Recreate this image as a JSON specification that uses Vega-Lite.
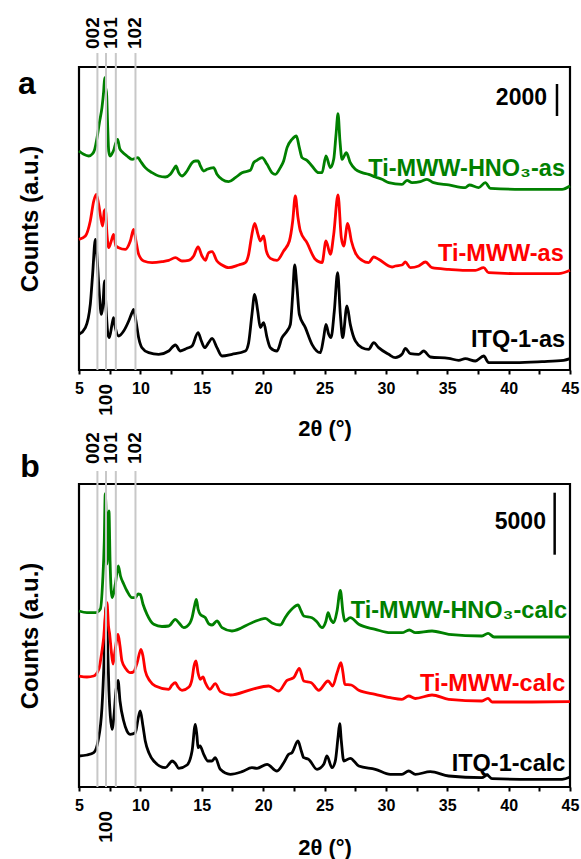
{
  "$schema": "https://vega.github.io/schema/vega-lite/v6.json",
  "padding": {"left": 16, "top": 16, "right": 0, "bottom": 0},
  "background": "white",
  "config": {
    "view": {"stroke": "black", "strokeWidth": 2.2},
    "font": "Liberation Sans",
    "text": {"font": "Liberation Sans", "fontWeight": "bold"},
    "line": {"strokeWidth": 2.8, "strokeJoin": "round", "interpolate": "monotone"}
  },
  "datasets": {
    "hkl": [{"hkl": "002", "t": 6.5}, {"hkl": "100", "t": 7.2}, {"hkl": "101", "t": 8.0}, {"hkl": "102", "t": 9.6}],
    "a": [
      {"s":"ITQ-1-as","t":5.00,"c":2229},{"s":"ITQ-1-as","t":5.52,"c":2646},{"s":"ITQ-1-as","t":5.92,"c":4104},{"s":"ITQ-1-as","t":6.11,"c":5979},{"s":"ITQ-1-as","t":6.33,"c":8167},{"s":"ITQ-1-as","t":6.49,"c":6813},{"s":"ITQ-1-as","t":6.66,"c":4729},{"s":"ITQ-1-as","t":6.82,"c":3479},{"s":"ITQ-1-as","t":6.93,"c":3896},{"s":"ITQ-1-as","t":7.09,"c":5563},{"s":"ITQ-1-as","t":7.20,"c":3896},{"s":"ITQ-1-as","t":7.36,"c":2229},{"s":"ITQ-1-as","t":7.47,"c":2021},{"s":"ITQ-1-as","t":7.69,"c":2854},{"s":"ITQ-1-as","t":7.82,"c":3271},{"s":"ITQ-1-as","t":7.96,"c":2646},{"s":"ITQ-1-as","t":8.23,"c":2125},{"s":"ITQ-1-as","t":8.64,"c":2438},{"s":"ITQ-1-as","t":9.05,"c":3063},{"s":"ITQ-1-as","t":9.32,"c":3583},{"s":"ITQ-1-as","t":9.45,"c":3792},{"s":"ITQ-1-as","t":9.64,"c":3063},{"s":"ITQ-1-as","t":9.86,"c":2021},{"s":"ITQ-1-as","t":10.13,"c":1396},{"s":"ITQ-1-as","t":10.68,"c":1083},{"s":"ITQ-1-as","t":11.49,"c":979},{"s":"ITQ-1-as","t":12.31,"c":1188},{"s":"ITQ-1-as","t":12.85,"c":1563},{"s":"ITQ-1-as","t":13.26,"c":1188},{"s":"ITQ-1-as","t":13.80,"c":1354},{"s":"ITQ-1-as","t":14.21,"c":1500},{"s":"ITQ-1-as","t":14.70,"c":2333},{"s":"ITQ-1-as","t":14.97,"c":1813},{"s":"ITQ-1-as","t":15.24,"c":1396},{"s":"ITQ-1-as","t":15.56,"c":1708},{"s":"ITQ-1-as","t":15.84,"c":1979},{"s":"ITQ-1-as","t":16.24,"c":1396},{"s":"ITQ-1-as","t":16.65,"c":875},{"s":"ITQ-1-as","t":17.46,"c":979},{"s":"ITQ-1-as","t":18.55,"c":1188},{"s":"ITQ-1-as","t":18.82,"c":1708},{"s":"ITQ-1-as","t":19.09,"c":3479},{"s":"ITQ-1-as","t":19.31,"c":4729},{"s":"ITQ-1-as","t":19.56,"c":3688},{"s":"ITQ-1-as","t":19.77,"c":2646},{"s":"ITQ-1-as","t":20.04,"c":2958},{"s":"ITQ-1-as","t":20.32,"c":2021},{"s":"ITQ-1-as","t":20.59,"c":1396},{"s":"ITQ-1-as","t":21.13,"c":1188},{"s":"ITQ-1-as","t":21.54,"c":2021},{"s":"ITQ-1-as","t":21.95,"c":2438},{"s":"ITQ-1-as","t":22.22,"c":2854},{"s":"ITQ-1-as","t":22.41,"c":4729},{"s":"ITQ-1-as","t":22.57,"c":6563},{"s":"ITQ-1-as","t":22.76,"c":5146},{"s":"ITQ-1-as","t":22.95,"c":3479},{"s":"ITQ-1-as","t":23.44,"c":2646},{"s":"ITQ-1-as","t":23.98,"c":1604},{"s":"ITQ-1-as","t":24.66,"c":1083},{"s":"ITQ-1-as","t":24.93,"c":2021},{"s":"ITQ-1-as","t":25.12,"c":2854},{"s":"ITQ-1-as","t":25.34,"c":2229},{"s":"ITQ-1-as","t":25.53,"c":2021},{"s":"ITQ-1-as","t":25.80,"c":3688},{"s":"ITQ-1-as","t":26.07,"c":6083},{"s":"ITQ-1-as","t":26.29,"c":3479},{"s":"ITQ-1-as","t":26.48,"c":2021},{"s":"ITQ-1-as","t":26.83,"c":4000},{"s":"ITQ-1-as","t":27.10,"c":2854},{"s":"ITQ-1-as","t":27.51,"c":1813},{"s":"ITQ-1-as","t":28.06,"c":1396},{"s":"ITQ-1-as","t":28.60,"c":1292},{"s":"ITQ-1-as","t":29.01,"c":1708},{"s":"ITQ-1-as","t":29.41,"c":1396},{"s":"ITQ-1-as","t":30.23,"c":979},{"s":"ITQ-1-as","t":30.77,"c":771},{"s":"ITQ-1-as","t":31.31,"c":979},{"s":"ITQ-1-as","t":31.59,"c":1354},{"s":"ITQ-1-as","t":31.99,"c":1021},{"s":"ITQ-1-as","t":32.67,"c":979},{"s":"ITQ-1-as","t":33.08,"c":1188},{"s":"ITQ-1-as","t":33.62,"c":813},{"s":"ITQ-1-as","t":35.12,"c":729},{"s":"ITQ-1-as","t":35.93,"c":604},{"s":"ITQ-1-as","t":36.47,"c":708},{"s":"ITQ-1-as","t":37.29,"c":563},{"s":"ITQ-1-as","t":37.97,"c":875},{"s":"ITQ-1-as","t":38.37,"c":458},{"s":"ITQ-1-as","t":40.55,"c":458},{"s":"ITQ-1-as","t":42.72,"c":521},{"s":"ITQ-1-as","t":44.48,"c":604},{"s":"ITQ-1-as","t":45.00,"c":708},
      {"s":"Ti-MWW-as","t":5.00,"c":8167},{"s":"Ti-MWW-as","t":5.52,"c":8375},{"s":"Ti-MWW-as","t":5.92,"c":9313},{"s":"Ti-MWW-as","t":6.20,"c":10563},{"s":"Ti-MWW-as","t":6.41,"c":10979},{"s":"Ti-MWW-as","t":6.60,"c":10354},{"s":"Ti-MWW-as","t":6.82,"c":9313},{"s":"Ti-MWW-as","t":6.93,"c":9000},{"s":"Ti-MWW-as","t":7.06,"c":9938},{"s":"Ti-MWW-as","t":7.15,"c":10042},{"s":"Ti-MWW-as","t":7.28,"c":8479},{"s":"Ti-MWW-as","t":7.42,"c":7646},{"s":"Ti-MWW-as","t":7.63,"c":8063},{"s":"Ti-MWW-as","t":7.82,"c":8479},{"s":"Ti-MWW-as","t":8.01,"c":7750},{"s":"Ti-MWW-as","t":8.23,"c":7646},{"s":"Ti-MWW-as","t":8.78,"c":7542},{"s":"Ti-MWW-as","t":9.18,"c":8063},{"s":"Ti-MWW-as","t":9.45,"c":8792},{"s":"Ti-MWW-as","t":9.64,"c":8063},{"s":"Ti-MWW-as","t":9.86,"c":7229},{"s":"Ti-MWW-as","t":10.27,"c":6813},{"s":"Ti-MWW-as","t":10.95,"c":6708},{"s":"Ti-MWW-as","t":11.76,"c":6771},{"s":"Ti-MWW-as","t":12.31,"c":6854},{"s":"Ti-MWW-as","t":12.85,"c":7021},{"s":"Ti-MWW-as","t":13.39,"c":6813},{"s":"Ti-MWW-as","t":13.93,"c":6854},{"s":"Ti-MWW-as","t":14.34,"c":7125},{"s":"Ti-MWW-as","t":14.70,"c":7688},{"s":"Ti-MWW-as","t":15.02,"c":7125},{"s":"Ti-MWW-as","t":15.29,"c":6854},{"s":"Ti-MWW-as","t":15.56,"c":7333},{"s":"Ti-MWW-as","t":15.84,"c":7396},{"s":"Ti-MWW-as","t":16.24,"c":6813},{"s":"Ti-MWW-as","t":16.65,"c":6563},{"s":"Ti-MWW-as","t":17.19,"c":6396},{"s":"Ti-MWW-as","t":18.01,"c":6563},{"s":"Ti-MWW-as","t":18.55,"c":6708},{"s":"Ti-MWW-as","t":18.82,"c":7229},{"s":"Ti-MWW-as","t":19.04,"c":8271},{"s":"Ti-MWW-as","t":19.31,"c":9167},{"s":"Ti-MWW-as","t":19.58,"c":8479},{"s":"Ti-MWW-as","t":19.77,"c":8063},{"s":"Ti-MWW-as","t":20.04,"c":8375},{"s":"Ti-MWW-as","t":20.26,"c":7438},{"s":"Ti-MWW-as","t":20.59,"c":6979},{"s":"Ti-MWW-as","t":21.13,"c":6854},{"s":"Ti-MWW-as","t":21.67,"c":7438},{"s":"Ti-MWW-as","t":22.14,"c":8063},{"s":"Ti-MWW-as","t":22.41,"c":9313},{"s":"Ti-MWW-as","t":22.62,"c":10875},{"s":"Ti-MWW-as","t":22.84,"c":9521},{"s":"Ti-MWW-as","t":23.03,"c":8688},{"s":"Ti-MWW-as","t":23.57,"c":7958},{"s":"Ti-MWW-as","t":24.25,"c":6917},{"s":"Ti-MWW-as","t":24.80,"c":6708},{"s":"Ti-MWW-as","t":25.12,"c":8063},{"s":"Ti-MWW-as","t":25.48,"c":7229},{"s":"Ti-MWW-as","t":25.75,"c":8479},{"s":"Ti-MWW-as","t":26.10,"c":10938},{"s":"Ti-MWW-as","t":26.37,"c":8271},{"s":"Ti-MWW-as","t":26.56,"c":7750},{"s":"Ti-MWW-as","t":26.89,"c":9167},{"s":"Ti-MWW-as","t":27.19,"c":8063},{"s":"Ti-MWW-as","t":27.51,"c":7333},{"s":"Ti-MWW-as","t":28.06,"c":6854},{"s":"Ti-MWW-as","t":28.60,"c":6708},{"s":"Ti-MWW-as","t":29.01,"c":7063},{"s":"Ti-MWW-as","t":29.41,"c":6917},{"s":"Ti-MWW-as","t":30.50,"c":6438},{"s":"Ti-MWW-as","t":30.77,"c":6500},{"s":"Ti-MWW-as","t":31.31,"c":6563},{"s":"Ti-MWW-as","t":31.59,"c":6750},{"s":"Ti-MWW-as","t":31.99,"c":6396},{"s":"Ti-MWW-as","t":32.67,"c":6500},{"s":"Ti-MWW-as","t":33.22,"c":6750},{"s":"Ti-MWW-as","t":33.76,"c":6396},{"s":"Ti-MWW-as","t":35.12,"c":6292},{"s":"Ti-MWW-as","t":36.47,"c":6229},{"s":"Ti-MWW-as","t":37.29,"c":6229},{"s":"Ti-MWW-as","t":37.97,"c":6396},{"s":"Ti-MWW-as","t":38.37,"c":6083},{"s":"Ti-MWW-as","t":41.09,"c":6021},{"s":"Ti-MWW-as","t":44.08,"c":6021},{"s":"Ti-MWW-as","t":45.00,"c":6229},
      {"s":"Ti-MWW-HNO3-as","t":5.00,"c":13688},{"s":"Ti-MWW-HNO3-as","t":5.38,"c":13479},{"s":"Ti-MWW-HNO3-as","t":5.79,"c":13375},{"s":"Ti-MWW-HNO3-as","t":6.11,"c":13521},{"s":"Ti-MWW-HNO3-as","t":6.28,"c":13792},{"s":"Ti-MWW-HNO3-as","t":6.47,"c":14521},{"s":"Ti-MWW-HNO3-as","t":6.66,"c":15458},{"s":"Ti-MWW-HNO3-as","t":6.87,"c":16396},{"s":"Ti-MWW-HNO3-as","t":7.01,"c":17438},{"s":"Ti-MWW-HNO3-as","t":7.09,"c":18271},{"s":"Ti-MWW-HNO3-as","t":7.17,"c":17646},{"s":"Ti-MWW-HNO3-as","t":7.25,"c":17229},{"s":"Ti-MWW-HNO3-as","t":7.34,"c":15146},{"s":"Ti-MWW-HNO3-as","t":7.42,"c":13688},{"s":"Ti-MWW-HNO3-as","t":7.53,"c":13375},{"s":"Ti-MWW-HNO3-as","t":7.69,"c":13521},{"s":"Ti-MWW-HNO3-as","t":7.85,"c":13792},{"s":"Ti-MWW-HNO3-as","t":7.96,"c":14104},{"s":"Ti-MWW-HNO3-as","t":8.15,"c":14417},{"s":"Ti-MWW-HNO3-as","t":8.31,"c":13854},{"s":"Ti-MWW-HNO3-as","t":8.50,"c":13646},{"s":"Ti-MWW-HNO3-as","t":8.91,"c":13375},{"s":"Ti-MWW-HNO3-as","t":9.32,"c":13167},{"s":"Ti-MWW-HNO3-as","t":9.81,"c":13271},{"s":"Ti-MWW-HNO3-as","t":10.00,"c":13063},{"s":"Ti-MWW-HNO3-as","t":10.40,"c":12646},{"s":"Ti-MWW-HNO3-as","t":10.95,"c":12333},{"s":"Ti-MWW-HNO3-as","t":11.49,"c":12125},{"s":"Ti-MWW-HNO3-as","t":12.03,"c":12063},{"s":"Ti-MWW-HNO3-as","t":12.44,"c":12229},{"s":"Ti-MWW-HNO3-as","t":12.71,"c":12542},{"s":"Ti-MWW-HNO3-as","t":12.90,"c":12750},{"s":"Ti-MWW-HNO3-as","t":13.12,"c":12333},{"s":"Ti-MWW-HNO3-as","t":13.39,"c":12125},{"s":"Ti-MWW-HNO3-as","t":13.80,"c":12438},{"s":"Ti-MWW-HNO3-as","t":14.21,"c":12958},{"s":"Ti-MWW-HNO3-as","t":14.48,"c":13063},{"s":"Ti-MWW-HNO3-as","t":14.70,"c":13063},{"s":"Ti-MWW-HNO3-as","t":14.89,"c":12750},{"s":"Ti-MWW-HNO3-as","t":15.16,"c":12438},{"s":"Ti-MWW-HNO3-as","t":15.43,"c":12542},{"s":"Ti-MWW-HNO3-as","t":15.97,"c":12646},{"s":"Ti-MWW-HNO3-as","t":16.24,"c":12229},{"s":"Ti-MWW-HNO3-as","t":16.65,"c":11917},{"s":"Ti-MWW-HNO3-as","t":17.19,"c":11771},{"s":"Ti-MWW-HNO3-as","t":17.74,"c":12021},{"s":"Ti-MWW-HNO3-as","t":18.28,"c":12333},{"s":"Ti-MWW-HNO3-as","t":18.96,"c":12479},{"s":"Ti-MWW-HNO3-as","t":19.23,"c":12958},{"s":"Ti-MWW-HNO3-as","t":19.50,"c":13104},{"s":"Ti-MWW-HNO3-as","t":19.91,"c":13271},{"s":"Ti-MWW-HNO3-as","t":20.32,"c":12854},{"s":"Ti-MWW-HNO3-as","t":20.72,"c":12333},{"s":"Ti-MWW-HNO3-as","t":21.00,"c":12229},{"s":"Ti-MWW-HNO3-as","t":21.40,"c":12646},{"s":"Ti-MWW-HNO3-as","t":21.67,"c":13063},{"s":"Ti-MWW-HNO3-as","t":21.95,"c":13896},{"s":"Ti-MWW-HNO3-as","t":22.35,"c":14417},{"s":"Ti-MWW-HNO3-as","t":22.71,"c":14625},{"s":"Ti-MWW-HNO3-as","t":22.95,"c":13896},{"s":"Ti-MWW-HNO3-as","t":23.17,"c":13271},{"s":"Ti-MWW-HNO3-as","t":23.57,"c":13104},{"s":"Ti-MWW-HNO3-as","t":23.98,"c":12750},{"s":"Ti-MWW-HNO3-as","t":24.53,"c":12333},{"s":"Ti-MWW-HNO3-as","t":24.80,"c":12333},{"s":"Ti-MWW-HNO3-as","t":25.12,"c":13375},{"s":"Ti-MWW-HNO3-as","t":25.48,"c":12646},{"s":"Ti-MWW-HNO3-as","t":25.75,"c":13167},{"s":"Ti-MWW-HNO3-as","t":25.94,"c":14729},{"s":"Ti-MWW-HNO3-as","t":26.10,"c":16021},{"s":"Ti-MWW-HNO3-as","t":26.26,"c":14313},{"s":"Ti-MWW-HNO3-as","t":26.43,"c":13167},{"s":"Ti-MWW-HNO3-as","t":26.78,"c":13583},{"s":"Ti-MWW-HNO3-as","t":27.10,"c":12958},{"s":"Ti-MWW-HNO3-as","t":27.51,"c":12542},{"s":"Ti-MWW-HNO3-as","t":28.06,"c":12333},{"s":"Ti-MWW-HNO3-as","t":28.60,"c":12229},{"s":"Ti-MWW-HNO3-as","t":29.14,"c":12063},{"s":"Ti-MWW-HNO3-as","t":29.68,"c":11917},{"s":"Ti-MWW-HNO3-as","t":30.23,"c":11708},{"s":"Ti-MWW-HNO3-as","t":31.31,"c":11604},{"s":"Ti-MWW-HNO3-as","t":31.72,"c":11854},{"s":"Ti-MWW-HNO3-as","t":32.13,"c":11708},{"s":"Ti-MWW-HNO3-as","t":32.81,"c":11771},{"s":"Ti-MWW-HNO3-as","t":33.35,"c":11917},{"s":"Ti-MWW-HNO3-as","t":33.89,"c":11708},{"s":"Ti-MWW-HNO3-as","t":35.12,"c":11563},{"s":"Ti-MWW-HNO3-as","t":36.47,"c":11396},{"s":"Ti-MWW-HNO3-as","t":36.80,"c":11563},{"s":"Ti-MWW-HNO3-as","t":37.56,"c":11396},{"s":"Ti-MWW-HNO3-as","t":38.10,"c":11708},{"s":"Ti-MWW-HNO3-as","t":38.51,"c":11354},{"s":"Ti-MWW-HNO3-as","t":41.09,"c":11292},{"s":"Ti-MWW-HNO3-as","t":44.35,"c":11292},{"s":"Ti-MWW-HNO3-as","t":45.00,"c":11500}
    ],
    "b": [
      {"s":"ITQ-1-calc","t":5.00,"c":2500},{"s":"ITQ-1-calc","t":5.65,"c":2581},{"s":"ITQ-1-calc","t":6.20,"c":2766},{"s":"ITQ-1-calc","t":6.55,"c":3710},{"s":"ITQ-1-calc","t":6.87,"c":6396},{"s":"ITQ-1-calc","t":7.04,"c":10162},{"s":"ITQ-1-calc","t":7.14,"c":13388},{"s":"ITQ-1-calc","t":7.22,"c":14598},{"s":"ITQ-1-calc","t":7.32,"c":11775},{"s":"ITQ-1-calc","t":7.44,"c":7742},{"s":"ITQ-1-calc","t":7.55,"c":5726},{"s":"ITQ-1-calc","t":7.69,"c":4653},{"s":"ITQ-1-calc","t":7.85,"c":5726},{"s":"ITQ-1-calc","t":8.01,"c":7742},{"s":"ITQ-1-calc","t":8.18,"c":8605},{"s":"ITQ-1-calc","t":8.34,"c":6936},{"s":"ITQ-1-calc","t":8.64,"c":5323},{"s":"ITQ-1-calc","t":8.91,"c":4516},{"s":"ITQ-1-calc","t":9.18,"c":4250},{"s":"ITQ-1-calc","t":9.59,"c":4379},{"s":"ITQ-1-calc","t":9.81,"c":5484},{"s":"ITQ-1-calc","t":9.99,"c":6129},{"s":"ITQ-1-calc","t":10.21,"c":4920},{"s":"ITQ-1-calc","t":10.40,"c":3710},{"s":"ITQ-1-calc","t":10.70,"c":2742},{"s":"ITQ-1-calc","t":11.09,"c":2097},{"s":"ITQ-1-calc","t":12.03,"c":1556},{"s":"ITQ-1-calc","t":12.41,"c":1936},{"s":"ITQ-1-calc","t":12.58,"c":2097},{"s":"ITQ-1-calc","t":12.82,"c":1936},{"s":"ITQ-1-calc","t":13.12,"c":1508},{"s":"ITQ-1-calc","t":13.80,"c":1774},{"s":"ITQ-1-calc","t":14.21,"c":2903},{"s":"ITQ-1-calc","t":14.48,"c":5057},{"s":"ITQ-1-calc","t":14.61,"c":4113},{"s":"ITQ-1-calc","t":14.70,"c":3170},{"s":"ITQ-1-calc","t":14.86,"c":3307},{"s":"ITQ-1-calc","t":15.16,"c":2637},{"s":"ITQ-1-calc","t":15.51,"c":2097},{"s":"ITQ-1-calc","t":15.84,"c":2097},{"s":"ITQ-1-calc","t":16.10,"c":2363},{"s":"ITQ-1-calc","t":16.51,"c":1427},{"s":"ITQ-1-calc","t":17.33,"c":1024},{"s":"ITQ-1-calc","t":18.28,"c":1234},{"s":"ITQ-1-calc","t":19.09,"c":1557},{"s":"ITQ-1-calc","t":19.50,"c":1508},{"s":"ITQ-1-calc","t":20.32,"c":1831},{"s":"ITQ-1-calc","t":21.13,"c":1290},{"s":"ITQ-1-calc","t":21.68,"c":1960},{"s":"ITQ-1-calc","t":22.08,"c":2637},{"s":"ITQ-1-calc","t":22.35,"c":2766},{"s":"ITQ-1-calc","t":22.84,"c":3710},{"s":"ITQ-1-calc","t":23.11,"c":2903},{"s":"ITQ-1-calc","t":23.31,"c":2363},{"s":"ITQ-1-calc","t":23.71,"c":2234},{"s":"ITQ-1-calc","t":24.39,"c":1427},{"s":"ITQ-1-calc","t":24.94,"c":1831},{"s":"ITQ-1-calc","t":25.20,"c":2500},{"s":"ITQ-1-calc","t":25.61,"c":1557},{"s":"ITQ-1-calc","t":25.88,"c":2097},{"s":"ITQ-1-calc","t":26.10,"c":3976},{"s":"ITQ-1-calc","t":26.24,"c":5105},{"s":"ITQ-1-calc","t":26.37,"c":3710},{"s":"ITQ-1-calc","t":26.57,"c":2097},{"s":"ITQ-1-calc","t":27.10,"c":2315},{"s":"ITQ-1-calc","t":27.79,"c":1694},{"s":"ITQ-1-calc","t":29.14,"c":1427},{"s":"ITQ-1-calc","t":30.36,"c":1024},{"s":"ITQ-1-calc","t":31.31,"c":1024},{"s":"ITQ-1-calc","t":31.86,"c":1290},{"s":"ITQ-1-calc","t":32.40,"c":1024},{"s":"ITQ-1-calc","t":33.62,"c":1234},{"s":"ITQ-1-calc","t":35.12,"c":887},{"s":"ITQ-1-calc","t":37.83,"c":750},{"s":"ITQ-1-calc","t":38.24,"c":968},{"s":"ITQ-1-calc","t":38.65,"c":669},{"s":"ITQ-1-calc","t":41.90,"c":621},{"s":"ITQ-1-calc","t":44.35,"c":621},{"s":"ITQ-1-calc","t":45.00,"c":807},
      {"s":"Ti-MWW-calc","t":5.00,"c":8952},{"s":"Ti-MWW-calc","t":5.65,"c":8872},{"s":"Ti-MWW-calc","t":6.20,"c":8952},{"s":"Ti-MWW-calc","t":6.61,"c":9493},{"s":"Ti-MWW-calc","t":6.87,"c":10968},{"s":"Ti-MWW-calc","t":7.01,"c":12041},{"s":"Ti-MWW-calc","t":7.16,"c":14033},{"s":"Ti-MWW-calc","t":7.28,"c":14864},{"s":"Ti-MWW-calc","t":7.40,"c":12985},{"s":"Ti-MWW-calc","t":7.50,"c":12315},{"s":"Ti-MWW-calc","t":7.63,"c":10968},{"s":"Ti-MWW-calc","t":7.77,"c":9920},{"s":"Ti-MWW-calc","t":7.93,"c":10968},{"s":"Ti-MWW-calc","t":8.18,"c":12315},{"s":"Ti-MWW-calc","t":8.34,"c":11372},{"s":"Ti-MWW-calc","t":8.50,"c":10162},{"s":"Ti-MWW-calc","t":8.83,"c":9517},{"s":"Ti-MWW-calc","t":9.18,"c":9218},{"s":"Ti-MWW-calc","t":9.46,"c":9299},{"s":"Ti-MWW-calc","t":9.73,"c":10001},{"s":"Ti-MWW-calc","t":10.05,"c":11105},{"s":"Ti-MWW-calc","t":10.21,"c":10565},{"s":"Ti-MWW-calc","t":10.40,"c":9355},{"s":"Ti-MWW-calc","t":10.78,"c":8549},{"s":"Ti-MWW-calc","t":11.22,"c":8146},{"s":"Ti-MWW-calc","t":12.31,"c":7880},{"s":"Ti-MWW-calc","t":12.58,"c":8226},{"s":"Ti-MWW-calc","t":12.85,"c":8412},{"s":"Ti-MWW-calc","t":13.07,"c":8065},{"s":"Ti-MWW-calc","t":13.39,"c":7799},{"s":"Ti-MWW-calc","t":13.96,"c":8065},{"s":"Ti-MWW-calc","t":14.21,"c":8710},{"s":"Ti-MWW-calc","t":14.37,"c":9759},{"s":"Ti-MWW-calc","t":14.53,"c":10162},{"s":"Ti-MWW-calc","t":14.70,"c":9194},{"s":"Ti-MWW-calc","t":14.88,"c":8686},{"s":"Ti-MWW-calc","t":15.10,"c":8872},{"s":"Ti-MWW-calc","t":15.29,"c":8412},{"s":"Ti-MWW-calc","t":15.67,"c":7880},{"s":"Ti-MWW-calc","t":16.10,"c":8331},{"s":"Ti-MWW-calc","t":16.51,"c":7686},{"s":"Ti-MWW-calc","t":17.33,"c":7420},{"s":"Ti-MWW-calc","t":19.09,"c":7880},{"s":"Ti-MWW-calc","t":20.45,"c":8146},{"s":"Ti-MWW-calc","t":21.27,"c":7742},{"s":"Ti-MWW-calc","t":21.95,"c":8605},{"s":"Ti-MWW-calc","t":22.49,"c":8815},{"s":"Ti-MWW-calc","t":22.95,"c":9573},{"s":"Ti-MWW-calc","t":23.31,"c":8549},{"s":"Ti-MWW-calc","t":23.93,"c":8412},{"s":"Ti-MWW-calc","t":24.53,"c":7799},{"s":"Ti-MWW-calc","t":25.29,"c":8549},{"s":"Ti-MWW-calc","t":25.67,"c":8146},{"s":"Ti-MWW-calc","t":26.02,"c":9194},{"s":"Ti-MWW-calc","t":26.34,"c":10025},{"s":"Ti-MWW-calc","t":26.51,"c":9194},{"s":"Ti-MWW-calc","t":26.65,"c":8283},{"s":"Ti-MWW-calc","t":27.18,"c":8226},{"s":"Ti-MWW-calc","t":27.79,"c":7799},{"s":"Ti-MWW-calc","t":29.14,"c":7476},{"s":"Ti-MWW-calc","t":30.36,"c":7202},{"s":"Ti-MWW-calc","t":31.31,"c":7073},{"s":"Ti-MWW-calc","t":31.86,"c":7339},{"s":"Ti-MWW-calc","t":32.40,"c":7138},{"s":"Ti-MWW-calc","t":33.76,"c":7420},{"s":"Ti-MWW-calc","t":35.12,"c":7073},{"s":"Ti-MWW-calc","t":37.83,"c":6936},{"s":"Ti-MWW-calc","t":38.32,"c":7154},{"s":"Ti-MWW-calc","t":38.65,"c":6855},{"s":"Ti-MWW-calc","t":41.90,"c":6855},{"s":"Ti-MWW-calc","t":45.00,"c":6879},
      {"s":"Ti-MWW-HNO3-calc","t":5.00,"c":14194},{"s":"Ti-MWW-HNO3-calc","t":5.65,"c":14057},{"s":"Ti-MWW-HNO3-calc","t":6.33,"c":14057},{"s":"Ti-MWW-HNO3-calc","t":6.74,"c":14356},{"s":"Ti-MWW-HNO3-calc","t":6.93,"c":16614},{"s":"Ti-MWW-HNO3-calc","t":7.06,"c":19840},{"s":"Ti-MWW-HNO3-calc","t":7.14,"c":23655},{"s":"Ti-MWW-HNO3-calc","t":7.22,"c":21453},{"s":"Ti-MWW-HNO3-calc","t":7.28,"c":17985},{"s":"Ti-MWW-HNO3-calc","t":7.36,"c":20646},{"s":"Ti-MWW-HNO3-calc","t":7.44,"c":22259},{"s":"Ti-MWW-HNO3-calc","t":7.53,"c":18227},{"s":"Ti-MWW-HNO3-calc","t":7.69,"c":15267},{"s":"Ti-MWW-HNO3-calc","t":7.81,"c":15565},{"s":"Ti-MWW-HNO3-calc","t":7.96,"c":16372},{"s":"Ti-MWW-HNO3-calc","t":8.20,"c":17824},{"s":"Ti-MWW-HNO3-calc","t":8.38,"c":17017},{"s":"Ti-MWW-HNO3-calc","t":8.64,"c":16372},{"s":"Ti-MWW-HNO3-calc","t":8.91,"c":15807},{"s":"Ti-MWW-HNO3-calc","t":9.32,"c":15267},{"s":"Ti-MWW-HNO3-calc","t":9.59,"c":15267},{"s":"Ti-MWW-HNO3-calc","t":9.81,"c":15565},{"s":"Ti-MWW-HNO3-calc","t":9.99,"c":15541},{"s":"Ti-MWW-HNO3-calc","t":10.21,"c":14759},{"s":"Ti-MWW-HNO3-calc","t":10.54,"c":13928},{"s":"Ti-MWW-HNO3-calc","t":11.09,"c":13122},{"s":"Ti-MWW-HNO3-calc","t":11.76,"c":12944},{"s":"Ti-MWW-HNO3-calc","t":12.31,"c":12985},{"s":"Ti-MWW-HNO3-calc","t":12.85,"c":13525},{"s":"Ti-MWW-HNO3-calc","t":13.15,"c":13227},{"s":"Ti-MWW-HNO3-calc","t":13.53,"c":12848},{"s":"Ti-MWW-HNO3-calc","t":14.04,"c":13227},{"s":"Ti-MWW-HNO3-calc","t":14.21,"c":13654},{"s":"Ti-MWW-HNO3-calc","t":14.41,"c":14598},{"s":"Ti-MWW-HNO3-calc","t":14.56,"c":15138},{"s":"Ti-MWW-HNO3-calc","t":14.70,"c":14356},{"s":"Ti-MWW-HNO3-calc","t":14.88,"c":13928},{"s":"Ti-MWW-HNO3-calc","t":15.29,"c":13654},{"s":"Ti-MWW-HNO3-calc","t":15.59,"c":13146},{"s":"Ti-MWW-HNO3-calc","t":15.84,"c":13065},{"s":"Ti-MWW-HNO3-calc","t":16.24,"c":13388},{"s":"Ti-MWW-HNO3-calc","t":16.65,"c":12848},{"s":"Ti-MWW-HNO3-calc","t":17.46,"c":12581},{"s":"Ti-MWW-HNO3-calc","t":19.09,"c":13251},{"s":"Ti-MWW-HNO3-calc","t":20.18,"c":13606},{"s":"Ti-MWW-HNO3-calc","t":20.72,"c":13227},{"s":"Ti-MWW-HNO3-calc","t":21.40,"c":13065},{"s":"Ti-MWW-HNO3-calc","t":21.78,"c":13630},{"s":"Ti-MWW-HNO3-calc","t":22.08,"c":14057},{"s":"Ti-MWW-HNO3-calc","t":22.43,"c":14436},{"s":"Ti-MWW-HNO3-calc","t":22.84,"c":14678},{"s":"Ti-MWW-HNO3-calc","t":23.09,"c":14194},{"s":"Ti-MWW-HNO3-calc","t":23.31,"c":13791},{"s":"Ti-MWW-HNO3-calc","t":23.98,"c":13654},{"s":"Ti-MWW-HNO3-calc","t":24.39,"c":13307},{"s":"Ti-MWW-HNO3-calc","t":24.80,"c":12848},{"s":"Ti-MWW-HNO3-calc","t":25.12,"c":13388},{"s":"Ti-MWW-HNO3-calc","t":25.29,"c":14057},{"s":"Ti-MWW-HNO3-calc","t":25.49,"c":13549},{"s":"Ti-MWW-HNO3-calc","t":25.75,"c":13251},{"s":"Ti-MWW-HNO3-calc","t":26.02,"c":14194},{"s":"Ti-MWW-HNO3-calc","t":26.29,"c":15864},{"s":"Ti-MWW-HNO3-calc","t":26.51,"c":14033},{"s":"Ti-MWW-HNO3-calc","t":26.65,"c":13388},{"s":"Ti-MWW-HNO3-calc","t":27.10,"c":13654},{"s":"Ti-MWW-HNO3-calc","t":27.79,"c":13122},{"s":"Ti-MWW-HNO3-calc","t":29.14,"c":12718},{"s":"Ti-MWW-HNO3-calc","t":30.36,"c":12444},{"s":"Ti-MWW-HNO3-calc","t":31.31,"c":12444},{"s":"Ti-MWW-HNO3-calc","t":31.91,"c":12662},{"s":"Ti-MWW-HNO3-calc","t":32.40,"c":12444},{"s":"Ti-MWW-HNO3-calc","t":33.76,"c":12581},{"s":"Ti-MWW-HNO3-calc","t":35.12,"c":12315},{"s":"Ti-MWW-HNO3-calc","t":37.83,"c":12178},{"s":"Ti-MWW-HNO3-calc","t":38.32,"c":12396},{"s":"Ti-MWW-HNO3-calc","t":38.81,"c":12098},{"s":"Ti-MWW-HNO3-calc","t":41.90,"c":12098},{"s":"Ti-MWW-HNO3-calc","t":45.00,"c":12098}
    ]
  },
  "vconcat": [
    {
      "width": 491,
      "height": 303,
      "encoding": {
        "x": {"type": "quantitative", "scale": {"domain": [5, 45], "nice": false},
          "axis": {"values": [5,7.5,10,12.5,15,17.5,20,22.5,25,27.5,30,32.5,35,37.5,40,42.5,45], "labelExpr": "datum.value % 5 === 0 ? datum.label : ''", "labelFlush": false, "labelOverlap": false, "tickSize": 4, "tickWidth": 2, "tickColor": "black", "domain": false, "grid": false, "labelFont": "Liberation Sans", "labelFontWeight": "bold", "labelFontSize": 16, "labelColor": "black", "labelPadding": 6, "title": "2θ (°)", "titleFont": "Liberation Sans", "titleFontWeight": "bold", "titleFontSize": 22, "titleColor": "black", "titlePadding": 22}},
        "y": {"type": "quantitative", "scale": {"domain": [0, 18937.5], "nice": false, "zero": false},
          "axis": {"labels": false, "ticks": false, "domain": false, "grid": false, "title": "Counts (a.u.)", "titleFont": "Liberation Sans", "titleFontWeight": "bold", "titleFontSize": 24, "titleColor": "black", "titlePadding": 37}}
      },
      "layer": [
        {
          "data": {"name": "a"},
          "transform": [{"filter": "datum.s === 'ITQ-1-as'"}],
          "mark": {"type": "line", "color": "#000000"},
          "encoding": {"x": {"field": "t"}, "y": {"field": "c"}}
        },
        {
          "data": {"name": "a"},
          "transform": [{"filter": "datum.s === 'Ti-MWW-as'"}],
          "mark": {"type": "line", "color": "#ff0000"},
          "encoding": {"x": {"field": "t"}, "y": {"field": "c"}}
        },
        {
          "data": {"name": "a"},
          "transform": [{"filter": "datum.s === 'Ti-MWW-HNO3-as'"}],
          "mark": {"type": "line", "color": "#008000"},
          "encoding": {"x": {"field": "t"}, "y": {"field": "c"}}
        },
        {
          "data": {"name": "hkl"},
          "mark": {"type": "rule", "color": "#c8c8c8", "strokeWidth": 2},
          "encoding": {"x": {"field": "t"}, "y": {"datum": 19813}, "y2": {"datum": 0}}
        },
        {
          "data": {"name": "hkl"},
          "transform": [{"filter": "datum.hkl === '002' || datum.hkl === '101'"}],
          "mark": {"type": "text", "angle": 270, "align": "left", "baseline": "middle", "dy": -4.5, "fontSize": 19, "fontWeight": "bold", "color": "black"},
          "encoding": {"x": {"field": "t"}, "y": {"datum": 20063}, "text": {"field": "hkl"}}
        },
        {
          "data": {"name": "hkl"},
          "transform": [{"filter": "datum.hkl === '102'"}],
          "mark": {"type": "text", "angle": 270, "align": "left", "baseline": "middle", "fontSize": 19, "fontWeight": "bold", "color": "black"},
          "encoding": {"x": {"field": "t"}, "y": {"datum": 20063}, "text": {"field": "hkl"}}
        },
        {
          "data": {"name": "hkl"},
          "transform": [{"filter": "datum.hkl === '100'"}],
          "mark": {"type": "text", "angle": 270, "align": "right", "baseline": "middle", "fontSize": 19, "fontWeight": "bold", "color": "black"},
          "encoding": {"x": {"field": "t"}, "y": {"datum": -875}, "text": {"field": "hkl"}}
        },
        {
          "data": {"values": [{}]},
          "mark": {"type": "rule", "color": "black", "strokeWidth": 2.5},
          "encoding": {"x": {"datum": 43.94}, "y": {"datum": 17875}, "y2": {"datum": 15875}}
        },
        {
          "data": {"values": [{}]},
          "mark": {"type": "text", "align": "right", "baseline": "middle", "fontSize": 23, "fontWeight": "bold", "color": "black"},
          "encoding": {"x": {"datum": 43.13}, "y": {"datum": 17031}, "text": {"value": "2000"}}
        },
        {
          "data": {"values": [{}]},
          "mark": {"type": "text", "align": "center", "baseline": "middle", "fontSize": 32, "fontWeight": "bold", "color": "black"},
          "encoding": {"x": {"datum": 0.76}, "y": {"datum": 17875}, "text": {"value": "a"}}
        },
        {
          "data": {"values": [{}]},
          "mark": {"type": "text", "align": "right", "baseline": "alphabetic", "fontSize": 23.5, "fontWeight": "bold", "color": "#008000"},
          "encoding": {"x": {"datum": 44.59}, "y": {"datum": 12125}, "text": {"value": "Ti-MWW-HNO₃-as"}}
        },
        {
          "data": {"values": [{}]},
          "mark": {"type": "text", "align": "right", "baseline": "alphabetic", "fontSize": 23.5, "fontWeight": "bold", "color": "#ff0000"},
          "encoding": {"x": {"datum": 44.49}, "y": {"datum": 6813}, "text": {"value": "Ti-MWW-as"}}
        },
        {
          "data": {"values": [{}]},
          "mark": {"type": "text", "align": "right", "baseline": "alphabetic", "fontSize": 23.5, "fontWeight": "bold", "color": "#000000"},
          "encoding": {"x": {"datum": 44.6}, "y": {"datum": 1438}, "text": {"value": "ITQ-1-as"}}
        }
      ]
    },
    {
      "width": 491,
      "height": 303,
      "encoding": {
        "x": {"type": "quantitative", "scale": {"domain": [5, 45], "nice": false},
          "axis": {"values": [5,7.5,10,12.5,15,17.5,20,22.5,25,27.5,30,32.5,35,37.5,40,42.5,45], "labelExpr": "datum.value % 5 === 0 ? datum.label : ''", "labelFlush": false, "labelOverlap": false, "tickSize": 4, "tickWidth": 2, "tickColor": "black", "domain": false, "grid": false, "labelFont": "Liberation Sans", "labelFontWeight": "bold", "labelFontSize": 16, "labelColor": "black", "labelPadding": 6, "title": "2θ (°)", "titleFont": "Liberation Sans", "titleFontWeight": "bold", "titleFontSize": 22, "titleColor": "black", "titlePadding": 24}},
        "y": {"type": "quantitative", "scale": {"domain": [0, 24437], "nice": false, "zero": false},
          "axis": {"labels": false, "ticks": false, "domain": false, "grid": false, "title": "Counts (a.u.)", "titleFont": "Liberation Sans", "titleFontWeight": "bold", "titleFontSize": 24, "titleColor": "black", "titlePadding": 37}}
      },
      "layer": [
        {
          "data": {"name": "b"},
          "transform": [{"filter": "datum.s === 'ITQ-1-calc'"}],
          "mark": {"type": "line", "color": "#000000"},
          "encoding": {"x": {"field": "t"}, "y": {"field": "c"}}
        },
        {
          "data": {"name": "b"},
          "transform": [{"filter": "datum.s === 'Ti-MWW-calc'"}],
          "mark": {"type": "line", "color": "#ff0000"},
          "encoding": {"x": {"field": "t"}, "y": {"field": "c"}}
        },
        {
          "data": {"name": "b"},
          "transform": [{"filter": "datum.s === 'Ti-MWW-HNO3-calc'"}],
          "mark": {"type": "line", "color": "#008000"},
          "encoding": {"x": {"field": "t"}, "y": {"field": "c"}}
        },
        {
          "data": {"name": "hkl"},
          "mark": {"type": "rule", "color": "#c8c8c8", "strokeWidth": 2},
          "encoding": {"x": {"field": "t"}, "y": {"datum": 25485}, "y2": {"datum": 0}}
        },
        {
          "data": {"name": "hkl"},
          "transform": [{"filter": "datum.hkl === '002' || datum.hkl === '101'"}],
          "mark": {"type": "text", "angle": 270, "align": "left", "baseline": "middle", "dy": -4.5, "fontSize": 19, "fontWeight": "bold", "color": "black"},
          "encoding": {"x": {"field": "t"}, "y": {"datum": 26050}, "text": {"field": "hkl"}}
        },
        {
          "data": {"name": "hkl"},
          "transform": [{"filter": "datum.hkl === '102'"}],
          "mark": {"type": "text", "angle": 270, "align": "left", "baseline": "middle", "fontSize": 19, "fontWeight": "bold", "color": "black"},
          "encoding": {"x": {"field": "t"}, "y": {"datum": 26050}, "text": {"field": "hkl"}}
        },
        {
          "data": {"name": "hkl"},
          "transform": [{"filter": "datum.hkl === '100'"}],
          "mark": {"type": "text", "angle": 270, "align": "right", "baseline": "middle", "fontSize": 19, "fontWeight": "bold", "color": "black"},
          "encoding": {"x": {"field": "t"}, "y": {"datum": -1936}, "text": {"field": "hkl"}}
        },
        {
          "data": {"values": [{}]},
          "mark": {"type": "rule", "color": "black", "strokeWidth": 2.5},
          "encoding": {"x": {"datum": 43.75}, "y": {"datum": 23735}, "y2": {"datum": 18735}}
        },
        {
          "data": {"values": [{}]},
          "mark": {"type": "text", "align": "right", "baseline": "middle", "fontSize": 23, "fontWeight": "bold", "color": "black"},
          "encoding": {"x": {"datum": 43.04}, "y": {"datum": 21332}, "text": {"value": "5000"}}
        },
        {
          "data": {"values": [{}]},
          "mark": {"type": "text", "align": "center", "baseline": "middle", "fontSize": 32, "fontWeight": "bold", "color": "black"},
          "encoding": {"x": {"datum": 1.0}, "y": {"datum": 25808}, "text": {"value": "b"}}
        },
        {
          "data": {"values": [{}]},
          "mark": {"type": "text", "align": "right", "baseline": "alphabetic", "fontSize": 23.5, "fontWeight": "bold", "color": "#008000"},
          "encoding": {"x": {"datum": 44.76}, "y": {"datum": 13630}, "text": {"value": "Ti-MWW-HNO₃-calc"}}
        },
        {
          "data": {"values": [{}]},
          "mark": {"type": "text", "align": "right", "baseline": "alphabetic", "fontSize": 23.5, "fontWeight": "bold", "color": "#ff0000"},
          "encoding": {"x": {"datum": 44.62}, "y": {"datum": 7742}, "text": {"value": "Ti-MWW-calc"}}
        },
        {
          "data": {"values": [{}]},
          "mark": {"type": "text", "align": "right", "baseline": "alphabetic", "fontSize": 23.5, "fontWeight": "bold", "color": "#000000"},
          "encoding": {"x": {"datum": 44.62}, "y": {"datum": 1290}, "text": {"value": "ITQ-1-calc"}}
        }
      ]
    }
  ],
  "spacing": 114,
  "bounds": "flush",
  "resolve": {"scale": {"x": "independent", "y": "independent"}}
}
